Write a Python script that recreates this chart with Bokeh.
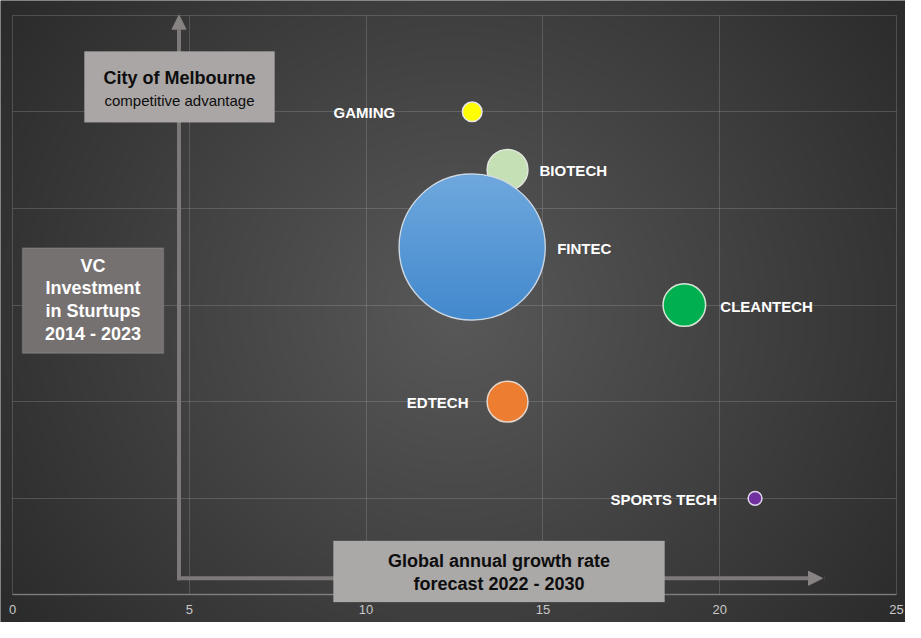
import numpy as np
from bokeh.plotting import figure
from bokeh.models import (ColumnDataSource, FixedTicker, BoxAnnotation, Label,
                          Arrow, NormalHead, Range1d, Grid)
from bokeh.core.properties import value
from bokeh.embed import file_html
from bokeh.resources import INLINE

# ---------------- data ----------------
sectors = ["GAMING", "BIOTECH", "FINTEC", "CLEANTECH", "EDTECH", "SPORTS TECH"]
growth_rate = [13, 14, 13, 19, 14, 21]              # x: global annual growth rate
advantage = [5.0, 4.4, 3.6, 3.0, 2.0, 1.0]          # y: competitive advantage
vc_investment = [1.8, 7.8, 100, 8.5, 7.8, 0.9]      # bubble size: VC investment
x_ticks = [0, 5, 10, 15, 20, 25]
y_grid_ticks = [0, 1, 2, 3, 4, 5, 6]

# ---------------- styles ----------------
colors = ["#FFFF00", "#C5E0B4", "#5B9BD5", "#00B050", "#ED7D31", "#7030A0"]
outline = ["#e6e6e6", "#e0e6dc", "#cfd9e4", "#d6e6d6", "#e6d6cc", "#e0d6ea"]
label_dx = [-77, 32, 85, 36, -39, -38]
label_align = ["right", "left", "left", "left", "right", "right"]
max_diam = 146

W, H = 905, 622
PXX = 35.36     # px per x unit
PXY = 96.63     # px per y unit
x0 = -12 / PXX
x1 = x0 + W / PXX
y1 = 6 + 14.7 / PXY
y0 = y1 - H / PXY


def rx(px):
    return (px - 20) / 35.36


def ry(py):
    return 6 - (py - 20) / 98.33


p = figure(width=W, height=H, output_backend="svg", toolbar_location=None,
           x_range=Range1d(x0, x1), y_range=Range1d(y0, y1),
           y_axis_location=None, min_border_left=0, min_border_right=0,
           min_border_top=0, min_border_bottom=0,
           background_fill_color="#454545", border_fill_color="#363636",
           outline_line_color=None)

# radial background gradient
nx, ny = 453, 311
xs = (np.arange(nx) + 0.5) * W / nx
ys = (np.arange(ny) + 0.5) * H / ny
X, Y = np.meshgrid(xs, ys)
d = np.sqrt(((X - 456) / 456) ** 2 + ((Y - 312) / (1.4 * 312)) ** 2)
g = np.clip(89 - 38 * d, 38, 95).astype(np.uint32)
img = (np.uint32(0xFF000000) | (g << 16) | (g << 8) | g).astype(np.uint32)
img = np.flipud(img)
p.image_rgba(image=[img], x=x0, y=y0, dw=x1 - x0, dh=y1 - y0, level="image")

# grids
p.xgrid.ticker = FixedTicker(ticks=x_ticks)
p.ygrid.ticker = FixedTicker(ticks=y_grid_ticks)
for gr in (p.xgrid, p.ygrid):
    gr.grid_line_color = "#a8a8a8"
    gr.grid_line_alpha = 0.28
    gr.grid_line_width = 1
try:
    p.xgrid.cross_bounds = (0, 6)
    p.ygrid.cross_bounds = (0, 25)
except Exception:
    pass
base = Grid(dimension=1, ticker=FixedTicker(ticks=[0]), grid_line_color="#9a9a9a",
            grid_line_alpha=0.6, grid_line_width=1.5)
try:
    base.cross_bounds = (0, 25)
except Exception:
    pass
p.add_layout(base, "center")

# x axis
ax = p.xaxis[0]
ax.ticker = FixedTicker(ticks=x_ticks)
ax.fixed_location = 0
ax.axis_line_color = None
ax.major_tick_line_color = None
ax.minor_tick_line_color = None
ax.major_tick_out = 0
ax.major_tick_in = 0
ax.major_label_standoff = 10
ax.major_label_text_color = "#c8c8c8"
ax.major_label_text_font = "Liberation Sans"
ax.major_label_text_font_size = "13px"

# arrows (L-shaped axes)
cx, cy = rx(186.5), ry(593)
arrow_col = "#7d7979"
p.add_layout(Arrow(x_start=cx, y_start=cy, x_end=cx, y_end=ry(20),
                   line_color=arrow_col, line_width=4, line_cap="square",
                   end=NormalHead(size=14, fill_color="#878383", line_color="#878383")))
p.add_layout(Arrow(x_start=cx, y_start=cy, x_end=rx(830), y_end=cy,
                   line_color=arrow_col, line_width=4, line_cap="square",
                   end=NormalHead(size=14, fill_color="#878383", line_color="#878383")))

# boxes
p.add_layout(BoxAnnotation(left=rx(92), right=rx(282), top=ry(57), bottom=ry(129),
                           fill_color="#aaa6a6", fill_alpha=1, line_color="#b0acac", line_width=1))
p.add_layout(BoxAnnotation(left=rx(30), right=rx(171), top=ry(257), bottom=ry(364),
                           fill_color="#767171", fill_alpha=1, line_color="#a39f9f", line_width=1.5))
p.add_layout(BoxAnnotation(left=rx(341), right=rx(672), top=ry(555), bottom=ry(617),
                           fill_color="#aba8a8", fill_alpha=1, line_color="#b3b0b0", line_width=1))


def box_label(text, x, y, size, color, style="bold"):
    p.add_layout(Label(x=x, y=y, text=text, text_align="center", text_baseline="middle",
                       text_font="Liberation Sans", text_font_size=size,
                       text_font_style=style, text_color=color))


box_label("City of Melbourne", rx(187), ry(84), "18px", "#0d0d0d")
box_label("competitive advantage", rx(187), ry(107), "15px", "#0d0d0d", "normal")
for t, yy in zip(["VC", "Investment", "in Sturtups", "2014 - 2023"], [275, 298, 321, 344]):
    box_label(t, rx(100.5), ry(yy), "18px", "#ffffff")
box_label("Global annual growth rate", rx(506.5), ry(575), "18px", "#0d0d0d")
box_label("forecast 2022 - 2030", rx(506.5), ry(599), "18px", "#0d0d0d")

# bubbles
vmax = max(vc_investment)
sizes = [max_diam * np.sqrt(v / vmax) for v in vc_investment]
src = ColumnDataSource(dict(
    x=growth_rate, y=advantage, name=sectors, size=sizes,
    color=colors, outline=outline, dx=label_dx, align=label_align,
))
p.scatter(x="x", y="y", size="size", fill_color="color", line_color="outline",
          line_width=1.5, source=src)

# vertical shading of the large FINTEC bubble (fill only, inside its outline)
fi = sectors.index("FINTEC")
diam = sizes[fi]
n = int(round(diam))
u = (np.arange(n) + 0.5) / n * 2 - 1
U, V = np.meshgrid(u, u)
rr = np.sqrt(U ** 2 + V ** 2)
inner = (diam / 2 - 0.8) / (diam / 2)
a = np.clip((inner - rr) * n / 2 + 0.5, 0, 1)
t = (V + 1) / 2
top_c = np.array([0x6F, 0xA8, 0xDE])
bot_c = np.array([0x42, 0x89, 0xCD])
rgb = [(bot_c[k] + (top_c[k] - bot_c[k]) * t).astype(np.uint32) for k in range(3)]
alpha = (a * 255).astype(np.uint32)
bimg = ((alpha << 24) | (rgb[2] << 16) | (rgb[1] << 8) | rgb[0]).astype(np.uint32)
p.image_rgba(image=[bimg], x=growth_rate[fi] - diam / 2 / PXX, y=advantage[fi] - diam / 2 / PXY,
             dw=diam / PXX, dh=diam / PXY)

p.text(x="x", y="y", text="name", x_offset="dx", y_offset=1, text_align="align",
       text_baseline="middle", text_font=value("Liberation Sans"), text_font_style="bold",
       text_font_size="15px", text_color="#ffffff", source=src)

open("out.html", "w").write(file_html(p, INLINE))
